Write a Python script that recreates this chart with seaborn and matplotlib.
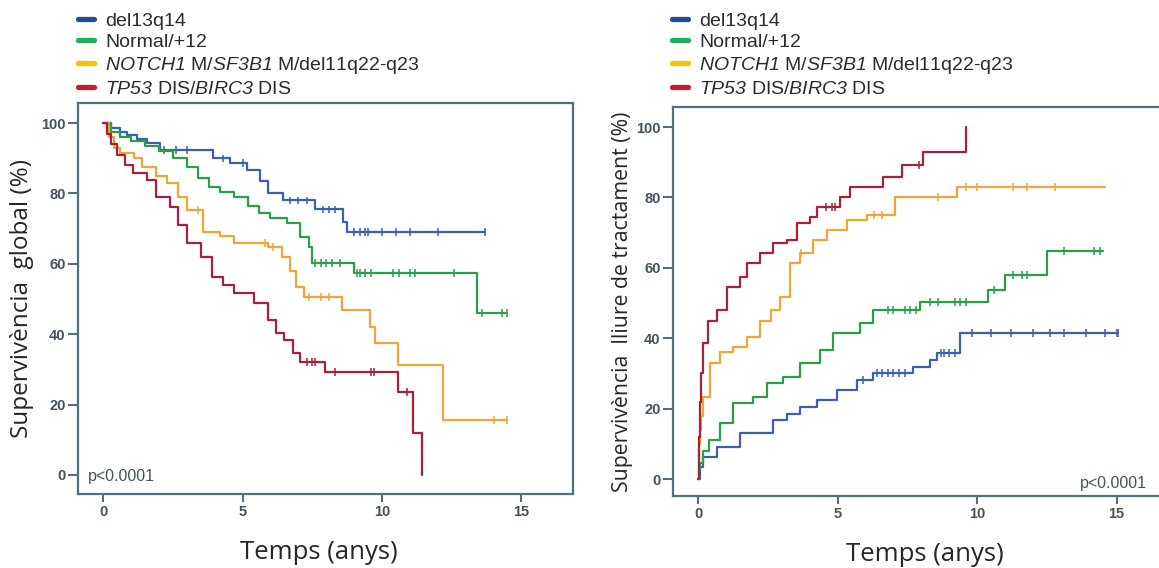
import numpy as np
import pandas as pd
import matplotlib
matplotlib.use("Agg")
import matplotlib.pyplot as plt
from matplotlib.lines import Line2D
import seaborn as sns

# ---- data ----
groups = ["del13q14", "Normal/+12", "NOTCH1", "TP53"]
legend_labels = [
    "del13q14",
    "Normal/+12",
    r"$\mathrm{NOTCH1}$ M/$\mathrm{SF3B1}$ M/del11q22-q23",
    r"$\mathrm{TP53}$ DIS/$\mathrm{BIRC3}$ DIS",
]

# overall survival (left)
os_blue_t = [0, 0.3, 0.6, 0.85, 1.2, 1.58, 2.04, 3.5, 3.95, 4.55, 5.16, 5.63, 5.9, 6.45, 7.6, 8.6, 8.75, 13.7]
os_blue_v = [100, 98.5, 97.5, 96.6, 95.5, 94.3, 92.3, 92.3, 90, 88.6, 86.7, 83.6, 80, 78, 75.5, 72, 69, 69]
os_green_t = [0, 0.3, 0.6, 1.0, 1.5, 2.0, 2.5, 3.0, 3.4, 3.8, 4.2, 4.7, 5.2, 5.6, 6.0, 6.6, 7.06, 7.4, 7.5, 9.0, 13.4, 14.5]
os_green_v = [100, 97.5, 96, 95, 93.5, 92, 90, 87.5, 84.5, 81.8, 80.5, 79, 76.5, 74.4, 73, 71.6, 67.6, 64.8, 60.2, 57.4, 46, 46]
os_orange_t = [0, 0.2, 0.4, 0.6, 1.1, 1.4, 1.9, 2.3, 2.7, 3.0, 3.6, 4.2, 4.7, 5.9, 6.4, 6.7, 6.9, 7.2, 8.57, 9.57, 9.75, 10.57, 12.2, 14.5]
os_orange_v = [100, 96, 93, 91.5, 90, 87.5, 85, 83, 79, 75.3, 69, 68, 65.9, 64.8, 62, 58, 53.4, 50.6, 46.9, 42, 37.5, 31.3, 15.6, 15.6]
os_red_t = [0, 0.15, 0.3, 0.5, 0.8, 1.08, 1.58, 1.9, 2.4, 2.7, 3.0, 3.5, 3.9, 4.3, 4.7, 5.4, 5.9, 6.2, 6.5, 6.8, 7.06, 7.96, 10.57, 11.1, 11.43, 11.43]
os_red_v = [100, 97, 94, 91, 88, 85.8, 83.8, 79, 76.1, 71, 65.9, 62, 56.3, 54, 51.7, 48.9, 44, 40.3, 38.4, 34.7, 32.1, 29.3, 23.6, 11.9, 0, 0]

os_blue_c = [2.2, 2.6, 3.0, 4.3, 5.0, 6.7, 7.0, 7.3, 7.9, 8.1, 8.3, 9.0, 9.2, 9.4, 9.5, 10.0, 10.5, 11.0, 12.0, 13.7]
os_green_c = [7.6, 7.8, 8.0, 8.2, 8.5, 9.1, 9.2, 9.4, 9.6, 10.4, 10.6, 11.0, 11.2, 12.6, 13.6, 14.3, 14.5]
os_orange_c = [3.4, 5.8, 6.1, 7.4, 7.8, 8.1, 14.0, 14.5]
os_red_c = [7.3, 7.5, 7.6, 8.3, 9.6, 9.7, 10.9]

# treatment-free survival (right)
tfs_blue_t = [0, 0.05, 0.18, 0.68, 1.5, 2.1, 2.7, 3.2, 3.66, 4.27, 4.98, 5.7, 6.27, 7.7, 8.3, 8.56, 9.4, 15.05]
tfs_blue_v = [0, 3.4, 6.3, 9.1, 13, 13, 16.8, 18.5, 20.5, 22.4, 25.3, 28.1, 30.1, 31.8, 33.8, 35.8, 41.5, 41.5]
tfs_green_t = [0, 0.03, 0.07, 0.18, 0.4, 0.79, 1.25, 1.97, 2.47, 3.05, 3.66, 4.37, 4.84, 5.8, 6.27, 7.96, 10.4, 11.0, 12.5, 14.5]
tfs_green_v = [0, 3, 4.5, 8, 11, 15.8, 21.6, 23.3, 27.2, 29, 33, 36.6, 41.5, 44.3, 48, 50.3, 53.7, 58, 64.8, 64.8]
tfs_orange_t = [0, 0.02, 0.05, 0.1, 0.18, 0.43, 0.8, 1.25, 1.76, 2.2, 2.6, 2.94, 3.3, 3.66, 4.12, 4.62, 5.34, 6.06, 7.06, 9.28, 14.6]
tfs_orange_v = [0, 10, 14, 18, 23.3, 33, 36, 37.5, 40.3, 45, 48, 51.7, 61.4, 64.2, 67.9, 70.7, 73.6, 75, 80.1, 83, 83]
tfs_red_t = [0, 0.02, 0.05, 0.1, 0.18, 0.36, 0.68, 1.04, 1.5, 1.76, 2.2, 2.7, 3.2, 3.55, 4.0, 4.27, 5.09, 5.45, 6.63, 7.3, 8.06, 9.6, 9.6]
tfs_red_v = [0, 12, 22, 30, 38.6, 45, 48, 54.5, 57.4, 61.4, 64.2, 67, 67.9, 72.7, 74.4, 77.3, 80.1, 83, 85.8, 89.2, 92.9, 92.9, 100]

tfs_blue_c = [5.9, 6.4, 6.6, 6.8, 7.0, 7.2, 7.4, 8.7, 8.8, 9.0, 9.2, 9.8, 10.5, 11.2, 12.0, 12.6, 13.1, 13.9, 14.6, 15.0, 15.05]
tfs_green_c = [6.8, 7.0, 7.4, 7.6, 7.8, 8.3, 8.6, 9.2, 9.4, 9.6, 10.6, 11.3, 11.6, 11.8, 13.1, 14.2, 14.4]
tfs_orange_c = [3.7, 6.3, 6.6, 8.6, 9.6, 10.0, 11.3, 11.8, 12.8]
tfs_red_c = [4.6, 4.8, 4.9, 7.9]

line_colors = ["#3a5fb5", "#2a9f48", "#f0a535", "#a8203a"]
legend_colors = ["#1f4f8f", "#1fae5a", "#f5c400", "#c4202c"]
spine_color = "#52707b"
tick_color = "#45525a"
label_font = "Open Sans"


def long_form(ts, vs):
    frames = []
    for g, t, v in zip(groups, ts, vs):
        frames.append(pd.DataFrame({"t": t, "v": v, "group": g}))
    return pd.concat(frames, ignore_index=True)


def censor_points(ts, vs, cs):
    frames = []
    for g, t, v, c in zip(groups, ts, vs, cs):
        t = np.asarray(t)
        v = np.asarray(v)
        idx = np.searchsorted(t, c, side="right") - 1
        frames.append(pd.DataFrame({"t": c, "v": v[idx], "group": g}))
    return pd.concat(frames, ignore_index=True)


def draw_panel(ax, ts, vs, cs, ylabel, ylim, ysize, ypad, xlab_x):
    curves = long_form(ts, vs)
    for g, col in zip(groups, line_colors):
        sub = curves[curves.group == g]
        sns.lineplot(data=sub, x="t", y="v", ax=ax, color=col, lw=1.6,
                     drawstyle="steps-post", sort=False, estimator=None)
    cens = censor_points(ts, vs, cs)
    sns.scatterplot(data=cens, x="t", y="v", hue="group", hue_order=groups,
                    palette=line_colors, marker="|", s=28, linewidth=1.1,
                    ax=ax, legend=False)
    ax.set_xlim(-0.9, 16.85)
    ax.set_ylim(*ylim)
    ax.set_xticks([0, 5, 10, 15])
    ax.set_yticks([0, 20, 40, 60, 80, 100])
    ax.set_xlabel("Temps (anys)", fontsize=18.5, family=label_font, labelpad=15)
    ax.xaxis.label.set_x(xlab_x)
    ax.set_ylabel(ylabel, fontsize=ysize, family=label_font, labelpad=ypad)
    for s in ax.spines.values():
        s.set_color(spine_color)
        s.set_linewidth(1.6)
    ax.tick_params(axis="x", direction="out", length=6, width=1.5,
                   color=spine_color, labelsize=10.5, labelcolor=tick_color, pad=2)
    ax.tick_params(axis="y", direction="out", length=7, width=1.5,
                   color=spine_color, labelsize=10.5, labelcolor=tick_color, pad=2)
    for lab in ax.get_xticklabels() + ax.get_yticklabels():
        lab.set_fontweight("bold")
    handles = [Line2D([], [], color=c, lw=3.8) for c in legend_colors]
    return handles


sns.set_style("ticks")
plt.rcParams["font.family"] = ["Liberation Sans", "DejaVu Sans"]
plt.rcParams["mathtext.fontset"] = "custom"
plt.rcParams["mathtext.it"] = "Liberation Sans:italic"
plt.rcParams["mathtext.rm"] = "Liberation Sans:italic"

fig = plt.figure(figsize=(11.59, 5.68), dpi=100)
ax1 = fig.add_axes([0.0673, 0.1303, 0.4271, 0.6884])
ax2 = fig.add_axes([0.5807, 0.1268, 0.4193, 0.6849])

h = draw_panel(ax1, [os_blue_t, os_green_t, os_orange_t, os_red_t],
               [os_blue_v, os_green_v, os_orange_v, os_red_v],
               [os_blue_c, os_green_c, os_orange_c, os_red_c],
               "Supervivència  global (%)", (-5.4, 105.7), 17.5, 5, 0.487)
draw_panel(ax2, [tfs_blue_t, tfs_green_t, tfs_orange_t, tfs_red_t],
           [tfs_blue_v, tfs_green_v, tfs_orange_v, tfs_red_v],
           [tfs_blue_c, tfs_green_c, tfs_orange_c, tfs_red_c],
           "Supervivència  lliure de tractament (%)", (-4.8, 105.7), 15.3, 2, 0.518)
ax2.set_xlim(-0.9, 16.52)
ax2.spines["right"].set_visible(False)

ax1.text(0.02, 0.046, "p<0.0001", transform=ax1.transAxes, fontsize=11.5,
         color=tick_color, va="center")
ax2.text(0.975, 0.031, "p<0.0001", transform=ax2.transAxes, fontsize=11.5,
         color=tick_color, ha="right", va="center")

for ax, x0 in [(ax1, 78 / 1159), (ax2, 672 / 1159)]:
    fig.legend(h, legend_labels, loc="upper left",
               bbox_to_anchor=(x0, 1 - 12 / 568), frameon=False,
               fontsize=14, handlelength=0.8, handletextpad=0.6,
               labelspacing=0.2, borderpad=0, borderaxespad=0,
               labelcolor="#2b2b2b")

fig.savefig("out.png", dpi=100)
